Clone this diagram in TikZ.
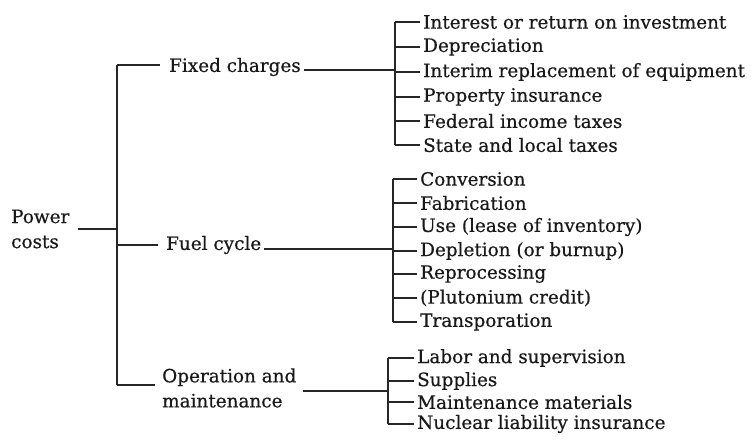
\documentclass[tikz,border=0pt]{standalone}
\usepackage{fontspec}
\setmainfont{DejaVu Serif}[FakeBold=0.5]
\begin{document}
\begin{tikzpicture}[x=1pt,y=-1pt,
  lbl/.style={anchor=west, inner sep=0pt, font=\fontsize{18.4}{25}\selectfont, text=black!90},
  ln/.style={line width=1.2pt, draw=black!85}]
\useasboundingbox (0,0) rectangle (754,439);
% root
\node[lbl, align=left] (pc) at (11,229) {Power\\costs};
\coordinate (top) at (117,65);
\coordinate (bot) at (117,385);
\draw[ln] (top) -- (bot);
\draw[ln] ([xshift=8pt]pc.east) -- (pc.east -| top);
% second level
\node[lbl] (fc) at (169,67) {Fixed charges};
\node[lbl] (fu) at (166,245) {Fuel cycle};
\node[lbl, align=left] (om) at (162,388) {Operation and\\maintenance};
\coordinate (v1) at (395,70);
\coordinate (v2) at (393,249);
\coordinate (v3) at (388,391);
\draw[ln] (top) -- ([xshift=-9pt]fc.west |- top);
\draw[ln] (fu.west -| top) -- ([xshift=-8pt]fu.west);
\draw[ln] (bot) -- ([xshift=-7pt]om.west |- bot);
\draw[ln] ([xshift=3pt]fc.east |- v1) -- (v1);
\draw[ln] ([xshift=3pt]fu.east |- v2) -- (v2);
\draw[ln] ([xshift=6pt]om.east |- v3) -- (v3);
% group 1
\node[lbl] (a1) at (423,22) {Interest or return on investment};
\node[lbl] (a2) at (423,47) {Depreciation};
\node[lbl] (a3) at (423,72) {Interim replacement of equipment};
\node[lbl] (a4) at (423,97) {Property insurance};
\node[lbl] (a5) at (423,121) {Federal income taxes};
\node[lbl] (a6) at (423,145) {State and local taxes};
\draw[ln] (v1 |- a1) -- (v1 |- a6);
\foreach \n in {a1,a2,a3,a4,a5,a6} \draw[ln] (v1 |- \n) -- ([xshift=-3pt]\n.west);
% group 2
\node[lbl] (b1) at (420,179) {Conversion};
\node[lbl] (b2) at (420,203) {Fabrication};
\node[lbl] (b3) at (420,227) {Use (lease of inventory)};
\node[lbl] (b4) at (420,251) {Depletion (or burnup)};
\node[lbl] (b5) at (420,274) {Reprocessing};
\node[lbl] (b6) at (420,298) {(Plutonium credit)};
\node[lbl] (b7) at (420,322) {Transporation};
\draw[ln] (v2 |- b1) -- (v2 |- b7);
\foreach \n in {b1,b2,b3,b4,b5,b6,b7} \draw[ln] (v2 |- \n) -- ([xshift=-3pt]\n.west);
% group 3
\node[lbl] (c1) at (417,358) {Labor and supervision};
\node[lbl] (c2) at (417,381) {Supplies};
\node[lbl] (c3) at (417,402) {Maintenance materials};
\node[lbl] (c4) at (417,424) {Nuclear liability insurance};
\draw[ln] (v3 |- c1) -- (v3 |- c4);
\foreach \n in {c1,c2,c3,c4} \draw[ln] (v3 |- \n) -- ([xshift=-3pt]\n.west);
\end{tikzpicture}
\end{document}
